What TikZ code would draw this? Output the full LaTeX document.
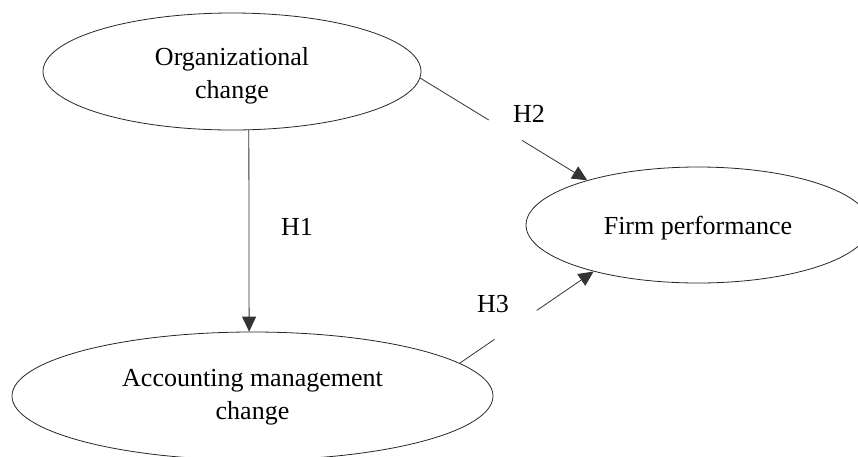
\documentclass[tikz,border=0pt]{standalone}
\usepackage{fontspec}
\setmainfont{Liberation Serif}
\usetikzlibrary{shapes.geometric,arrows.meta,calc}
\begin{document}
\begin{tikzpicture}[x=1pt,y=-1pt,
  oval/.style={draw=black!85,line width=0.8pt,ellipse,inner sep=0pt},
  ovaltext/.style={inner sep=0pt,align=center,font={\fontsize{26}{33}\selectfont}},
  conn/.style={draw=black!80,line width=0.8pt},
  arr/.style={conn,-{Triangle[length=15pt,width=14pt]}},
  hlab/.style={font={\fontsize{26}{30}\selectfont},inner sep=0pt}]
\useasboundingbox (0,0) rectangle (858,456);
\node[oval,minimum width=378pt,minimum height=117pt] (org) at (232,71.5) {};
\node[oval,minimum width=344pt,minimum height=116pt] (firm) at (698,225) {};
\node[oval,minimum width=481pt,minimum height=128pt] (acc) at (252.5,396) {};
\node[ovaltext] (orgt) at (232,76) {Organizational\\change};
\node[ovaltext] (firmt) at (698,228) {Firm performance};
\node[ovaltext] (acct) at (252.5,397.5) {Accounting management\\change};
\node[hlab] (h1) at (297,227) {H1};
\node[hlab] (h2) at (529,114) {H2};
\node[hlab] (h3) at (493,304) {H3};
\draw[arr] (org.-74) -- (acc.93);
\coordinate (g2a) at ($(org.-2)!0.41!(firm.158)$);
\coordinate (g2b) at ($(org.-2)!0.61!(firm.158)$);
\draw[conn] (org.-2) -- (g2a);
\draw[arr] (g2b) -- (firm.158);
\coordinate (g3a) at ($(acc.9)!0.26!(firm.204)$);
\coordinate (g3b) at ($(acc.9)!0.575!(firm.204)$);
\draw[conn] (acc.9) -- (g3a);
\draw[arr] (g3b) -- (firm.204);
\end{tikzpicture}
\end{document}
